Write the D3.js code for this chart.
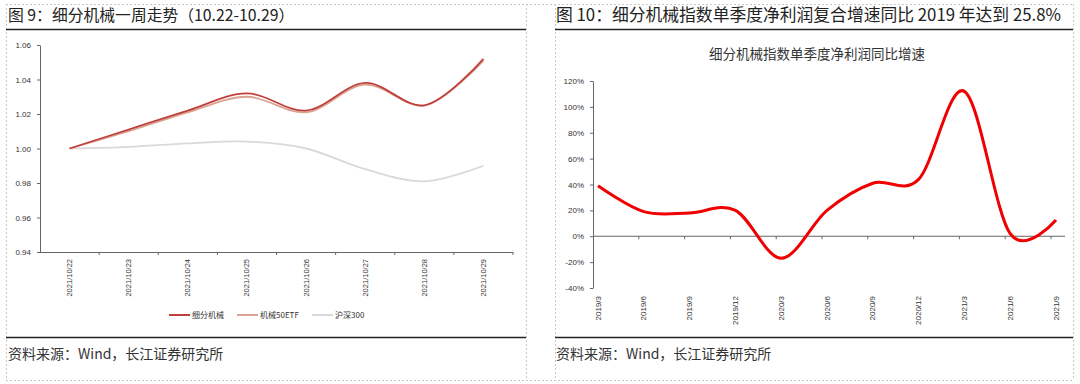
<!DOCTYPE html>
<html lang="zh">
<head>
<meta charset="UTF-8">
<title>细分机械</title>
<script src="https://cdnjs.cloudflare.com/ajax/libs/d3/7.8.5/d3.min.js"></script>
<style>
  body { margin: 0; background: #fff; }
  svg { display: block; font-family: "Noto Sans CJK SC", "Liberation Sans", Arial, sans-serif; }
  .num { font-family: "Liberation Sans", Arial, sans-serif; }
</style>
</head>
<body>
<svg id="chart" width="1080" height="384"></svg>
<script>
// ---- left chart data: 一周走势 ----
const dates = ["2021/10/22", "2021/10/23", "2021/10/24", "2021/10/25", "2021/10/26", "2021/10/27", "2021/10/28", "2021/10/29"];
const seriesNames = ["细分机械", "机械50ETF", "沪深300"];
const xifen = [1.000, 1.011, 1.022, 1.032, 1.022, 1.038, 1.025, 1.052];
const etf50 = [1.000, 1.010, 1.021, 1.030, 1.021, 1.037, 1.025, 1.051];
const hs300 = [1.000, 1.001, 1.003, 1.004, 1.000, 0.988, 0.981, 0.990];
const leftTicks = [0.94, 0.96, 0.98, 1.00, 1.02, 1.04, 1.06];

// ---- right chart data: 单季度净利润同比增速 (%) ----
const quarters = ["2019/3", "2019/6", "2019/9", "2019/12", "2020/3", "2020/6", "2020/9", "2020/12", "2021/3", "2021/6", "2021/9"];
const growth = [39, 19, 18, 20, -17, 20, 41, 44, 112, 2, 12.5];
const rightTicks = [-40, -20, 0, 20, 40, 60, 80, 100, 120];

const svg = d3.select("#chart");
const axisColor = "#666";

// frame: dashed boxes and solid rules
const dash = svg.append("g").attr("stroke", "#c8c8c8").attr("stroke-dasharray", "2,2").attr("fill", "none");
dash.append("line").attr("x1", 6).attr("x2", 1073).attr("y1", 4.5).attr("y2", 4.5);
dash.append("line").attr("x1", 6).attr("x2", 1073).attr("y1", 380.5).attr("y2", 380.5);
[6.5, 526.5, 555.5, 1073.5].forEach(x => {
    dash.append("line").attr("x1", x).attr("x2", x).attr("y1", 4).attr("y2", 380);
});
const rule = svg.append("g").attr("stroke", "#222").attr("stroke-width", 1.5);
[[6, 526], [555, 1073]].forEach(([a, b]) => {
    rule.append("line").attr("x1", a).attr("x2", b).attr("y1", 29.5).attr("y2", 29.5);
    rule.append("line").attr("x1", a).attr("x2", b).attr("y1", 337.5).attr("y2", 337.5);
});

// titles and sources
svg.append("text").attr("x", 8).attr("y", 21).attr("font-size", 15.8).attr("fill", "#222")
    .text("图 9：细分机械一周走势（10.22-10.29）");
svg.append("text").attr("x", 556).attr("y", 21).attr("font-size", 16.8).attr("fill", "#222")
    .text("图 10：细分机械指数单季度净利润复合增速同比 2019 年达到 25.8%");
svg.append("text").attr("x", 8).attr("y", 359).attr("font-size", 14).attr("fill", "#333")
    .text("资料来源：Wind，长江证券研究所");
svg.append("text").attr("x", 556).attr("y", 359).attr("font-size", 14).attr("fill", "#333")
    .text("资料来源：Wind，长江证券研究所");

// ================= left chart =================
const xL = d3.scaleBand().domain(dates).range([40, 513]);
const yL = d3.scaleLinear().domain([0.94, 1.06]).range([252, 45]);

const gyL = svg.append("g").attr("class", "num").attr("transform", "translate(40,0)")
    .call(d3.axisLeft(yL).tickValues(leftTicks).tickFormat(d3.format(".2f")).tickSize(3).tickSizeOuter(0).tickPadding(6));
gyL.select(".domain").attr("stroke", axisColor);
gyL.selectAll(".tick line").attr("stroke", axisColor);
gyL.selectAll(".tick text").attr("font-size", 8).attr("fill", "#333");

// x axis, ticks between categories
const gxL = svg.append("g").attr("class", "num");
gxL.append("line").attr("x1", 40).attr("x2", 513).attr("y1", yL(0.94) + 0.5).attr("y2", yL(0.94) + 0.5).attr("stroke", axisColor);
dates.concat(["end"]).forEach((d, i) => {
    const x = i < dates.length ? xL(d) : xL.range()[1];
    if (i === 0) return;
    gxL.append("line").attr("x1", x).attr("x2", x).attr("y1", 252).attr("y2", 255).attr("stroke", axisColor);
});
gxL.selectAll("text.xl").data(dates).join("text")
    .attr("class", "xl")
    .attr("transform", d => `translate(${xL(d) + xL.bandwidth() / 2 + 2.5},259) rotate(-90)`)
    .attr("text-anchor", "end").attr("font-size", 7.5).attr("fill", "#333")
    .text(d => d);

const lineL = d3.line().x((d, i) => xL(dates[i]) + xL.bandwidth() / 2).y(d => yL(d)).curve(d3.curveCatmullRom.alpha(0.5));
const leftSeries = [
    { name: seriesNames[2], values: hs300, color: "#d9d9d9" },
    { name: seriesNames[1], values: etf50, color: "#dba391" },
    { name: seriesNames[0], values: xifen, color: "#c0403c" }
];
svg.append("g").selectAll("path").data(leftSeries).join("path")
    .attr("d", d => lineL(d.values)).attr("fill", "none")
    .attr("stroke", d => d.color).attr("stroke-width", 1.8);

// legend
const legend = svg.append("g").attr("transform", "translate(0,315)");
const legendX = [169, 237, 312];
leftSeries.slice().reverse().forEach((s, i) => {
    const g = legend.append("g").attr("transform", `translate(${legendX[i]},0)`);
    g.append("line").attr("x1", 0).attr("x2", 21).attr("stroke", s.color).attr("stroke-width", 2);
    g.append("text").attr("x", 23).attr("y", 3).attr("font-size", 8).attr("fill", "#333").text(s.name);
});

// ================= right chart =================
svg.append("text").attr("x", 817).attr("y", 59).attr("text-anchor", "middle")
    .attr("font-size", 13.5).attr("fill", "#333").text("细分机械指数单季度净利润同比增速");

const xR = d3.scalePoint().domain(quarters).range([598, 1056]);
const yR = d3.scaleLinear().domain([-40, 120]).range([288, 81]);

const gyR = svg.append("g").attr("class", "num").attr("transform", "translate(593,0)")
    .call(d3.axisLeft(yR).tickValues(rightTicks).tickFormat(d => d + "%").tickSize(3).tickSizeOuter(0).tickPadding(6));
gyR.select(".domain").attr("stroke", axisColor);
gyR.selectAll(".tick line").attr("stroke", axisColor);
gyR.selectAll(".tick text").attr("font-size", 8).attr("fill", "#333");

const gxR = svg.append("g").attr("class", "num");
gxR.append("line").attr("x1", 593).attr("x2", 1065).attr("y1", yR(0)).attr("y2", yR(0)).attr("stroke", axisColor);
quarters.slice(1).forEach(q => {
    gxR.append("line").attr("x1", xR(q) - 5).attr("x2", xR(q) - 5).attr("y1", yR(0)).attr("y2", yR(0) + 3).attr("stroke", axisColor);
});
gxR.selectAll("text.xr").data(quarters).join("text")
    .attr("class", "xr")
    .attr("transform", d => `translate(${xR(d) + 2.5},296) rotate(-90)`)
    .attr("text-anchor", "end").attr("font-size", 8).attr("fill", "#333")
    .text(d => d);

const lineR = d3.line().x((d, i) => xR(quarters[i])).y(d => yR(d)).curve(d3.curveCatmullRom.alpha(0));
svg.append("path").attr("d", lineR(growth)).attr("fill", "none")
    .attr("stroke", "#f00000").attr("stroke-width", 3);
</script>
</body>
</html>
